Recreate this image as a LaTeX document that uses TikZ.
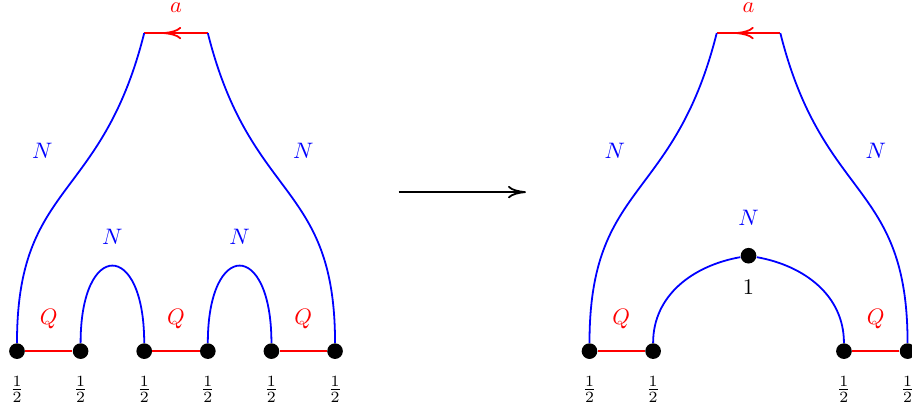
\documentclass[tikz,border=0pt]{standalone}
\usepackage{amsmath}
\usepackage{amssymb}
\usetikzlibrary{arrows.meta}
\begin{document}
\begin{tikzpicture}[>={To[length=8pt,width=5.5pt]},
    vertex/.style={circle, fill=black, inner sep=0pt, minimum size=7pt},
    bline/.style={blue, thick},
    rline/.style={red, thick}]
    \useasboundingbox (-0.267,-0.975) rectangle (14.07,5.52);
    % left diagram
    \node[vertex] (L0) at (0,0) {};
    \node[vertex] (L1) at (1,0) {};
    \node[vertex] (L2) at (2,0) {};
    \node[vertex] (L3) at (3,0) {};
    \node[vertex] (L4) at (4,0) {};
    \node[vertex] (L5) at (5,0) {};
    \coordinate (La) at (2,5);  \coordinate (Lb) at (3,5);  \coordinate (Lm) at (2.3,5);
    \draw[rline] (L0) -- (L1);  \draw[rline] (L2) -- (L3);  \draw[rline] (L4) -- (L5);
    \draw[rline] (La) -- (Lb);  \draw[rline, ->] (Lb) -- (Lm);
    \draw[bline] (L0) .. controls +(0,2.67) and +(-0.67,-2.67) .. (La);
    \draw[bline] (L5) .. controls +(0,2.67) and +(0.67,-2.67) .. (Lb);
    \draw[bline] (L1) .. controls +(0,1.75) and +(0,1.75) .. (L2);
    \draw[bline] (L3) .. controls +(0,1.75) and +(0,1.75) .. (L4);
    \node[red, inner sep=1pt] (La-lbl) at (2.5,5.4) {$a$};
    \node[blue] (LN1) at (0.4,3.15) {$N$};
    \node[blue] (LN2) at (4.5,3.15) {$N$};
    \node[blue] (LN3) at (1.5,1.8) {$N$};
    \node[blue] (LN4) at (3.5,1.8) {$N$};
    \node[red] (LQ1) at (0.5,0.5) {$Q$};
    \node[red] (LQ2) at (2.5,0.5) {$Q$};
    \node[red] (LQ3) at (4.5,0.5) {$Q$};
    \node (Lh0) at (0,-0.6) {$\frac{1}{2}$};  \node (Lh1) at (1,-0.6) {$\frac{1}{2}$};
    \node (Lh2) at (2,-0.6) {$\frac{1}{2}$};  \node (Lh3) at (3,-0.6) {$\frac{1}{2}$};
    \node (Lh4) at (4,-0.6) {$\frac{1}{2}$};  \node (Lh5) at (5,-0.6) {$\frac{1}{2}$};
    % arrow between
    \coordinate (A1) at (6,2.5);  \coordinate (A2) at (8,2.5);
    \draw[thick, ->] (A1) -- (A2);
    % right diagram
    \node[vertex] (R0) at (9,0) {};
    \node[vertex] (R1) at (10,0) {};
    \node[vertex] (Rm) at (11.5,1.5) {};
    \node[vertex] (R4) at (13,0) {};
    \node[vertex] (R5) at (14,0) {};
    \coordinate (Ra) at (11,5);  \coordinate (Rb) at (12,5);  \coordinate (Rc) at (11.3,5);
    \draw[rline] (R0) -- (R1);  \draw[rline] (R4) -- (R5);
    \draw[rline] (Ra) -- (Rb);  \draw[rline, ->] (Rb) -- (Rc);
    \draw[bline] (R0) .. controls +(0,2.67) and +(-0.67,-2.67) .. (Ra);
    \draw[bline] (R5) .. controls +(0,2.67) and +(0.67,-2.67) .. (Rb);
    \draw[bline] (R1) to[out=90, in=190] (Rm);
    \draw[bline] (Rm) to[out=-10, in=90] (R4);
    \node[red, inner sep=1pt] (Ra-lbl) at (11.5,5.4) {$a$};
    \node[blue] (RN1) at (9.4,3.15) {$N$};
    \node[blue] (RN2) at (13.5,3.15) {$N$};
    \node[blue] (RN3) at (11.5,2.1) {$N$};
    \node (Rone) at (11.5,1.0) {$1$};
    \node[red] (RQ1) at (9.5,0.5) {$Q$};
    \node[red] (RQ2) at (13.5,0.5) {$Q$};
    \node (Rh0) at (9,-0.6) {$\frac{1}{2}$};   \node (Rh1) at (10,-0.6) {$\frac{1}{2}$};
    \node (Rh4) at (13,-0.6) {$\frac{1}{2}$};  \node (Rh5) at (14,-0.6) {$\frac{1}{2}$};
\end{tikzpicture}
\end{document}
